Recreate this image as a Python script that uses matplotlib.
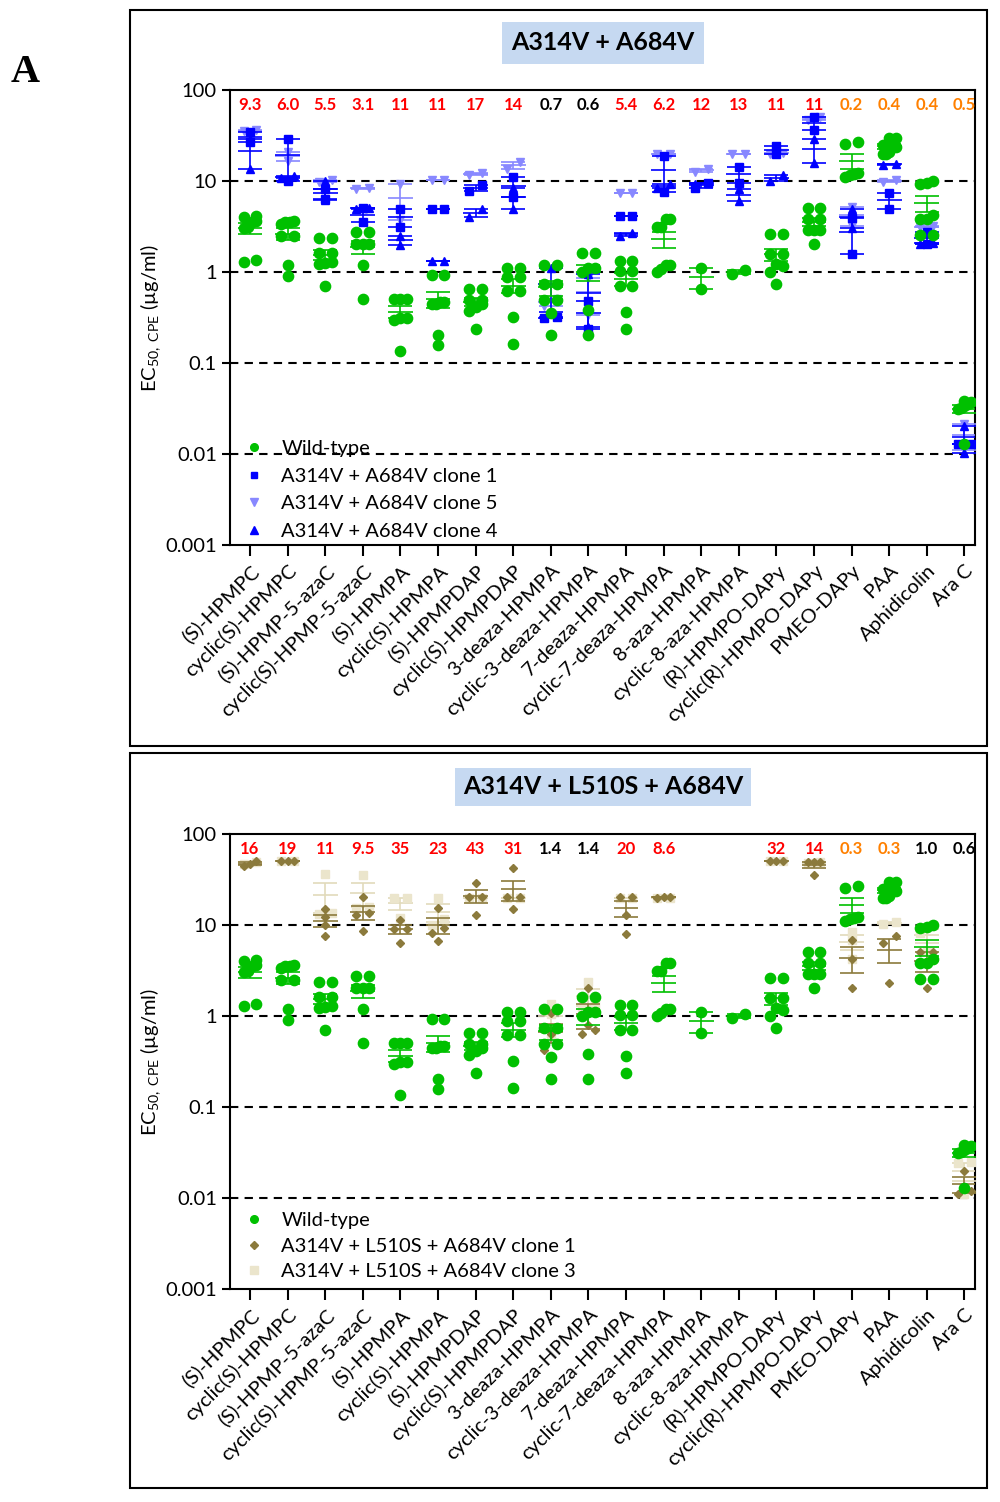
import numpy as np
import matplotlib
matplotlib.use("Agg")
import matplotlib.pyplot as plt
from matplotlib.lines import Line2D
from matplotlib.patches import Rectangle
from matplotlib.ticker import FixedLocator, FixedFormatter, NullLocator
from matplotlib.transforms import blended_transform_factory

plt.rcParams["font.family"] = ["Lato", "DejaVu Sans"]
plt.rcParams["mathtext.fontset"] = "custom"
plt.rcParams["mathtext.rm"] = "Lato"
plt.rcParams["mathtext.it"] = "Lato:italic"
plt.rcParams["mathtext.bf"] = "Lato:bold"

DRUGS = [
    "(S)-HPMPC", "cyclic(S)-HPMPC", "(S)-HPMP-5-azaC", "cyclic(S)-HPMP-5-azaC",
    "(S)-HPMPA", "cyclic(S)-HPMPA", "(S)-HPMPDAP", "cyclic(S)-HPMPDAP",
    "3-deaza-HPMPA", "cyclic-3-deaza-HPMPA", "7-deaza-HPMPA", "cyclic-7-deaza-HPMPA",
    "8-aza-HPMPA", "cyclic-8-aza-HPMPA", "(R)-HPMPO-DAPy", "cyclic(R)-HPMPO-DAPy",
    "PMEO-DAPy", "PAA", "Aphidicolin", "Ara C",
]

# wild-type EC50 values (ug/ml), same in both panels
WT = [
    [4.14, 4.07, 3.59, 3.50, 3.16, 3.08, 1.28, 1.35],
    [3.65, 3.56, 3.50, 3.35, 2.50, 2.46, 1.19, 0.91],
    [2.34, 2.34, 1.60, 1.60, 1.30, 1.26, 1.23, 0.71],
    [2.72, 2.72, 2.03, 2.03, 2.03, 1.19, 0.50],
    [0.50, 0.50, 0.50, 0.31, 0.31, 0.30, 0.135],
    [0.935, 0.935, 0.466, 0.466, 0.447, 0.447, 0.201, 0.159],
    [0.652, 0.652, 0.498, 0.498, 0.447, 0.41, 0.37, 0.234],
    [1.10, 1.10, 0.875, 0.875, 0.625, 0.625, 0.319, 0.16],
    [1.19, 1.19, 0.74, 0.74, 0.498, 0.498, 0.356, 0.201],
    [1.60, 1.60, 1.10, 1.10, 0.99, 0.387, 0.201],
    [1.31, 1.31, 1.03, 1.03, 0.703, 0.703, 0.365, 0.238],
    [3.80, 3.80, 3.16, 3.16, 1.19, 1.19, 1.08, 0.99],
    [1.10, 0.652],
    [1.05, 0.95],
    [2.61, 2.61, 1.57, 1.57, 1.22, 1.17, 0.99, 0.74],
    [5.02, 5.02, 3.87, 3.87, 2.91, 2.91, 2.91, 2.03],
    [26.5, 25.8, 12.3, 12.0, 11.5, 11.1],
    [29.8, 29.8, 25.0, 23.8, 23.8, 21.0, 19.9, 19.9],
    [10.0, 9.43, 9.2, 4.2, 3.87, 3.8, 2.58, 2.58],
    [0.038, 0.037, 0.035, 0.034, 0.032, 0.031, 0.013],
]

# panel A top: A314V + A684V clones
AV_CLONE1 = [
    [34.4, 26.7], [29.1, 10.0], [8.2, 6.4], [5.0, 3.56], [4.98, 3.16],
    [4.98, 4.98], [9.0, 7.8], [11.2, 6.6], [0.32, 0.31], [0.48, 0.234],
    [4.14, 4.14], [18.9, 7.6], [9.6, 8.4], [14.3, 9.6], [24.2, 19.6],
    [50.6, 36.1], [3.96, 1.57], [7.45, 4.98], [2.72, 2.03], [0.0129, 0.0129],
]
AV_CLONE5 = [
    [36.5, 35.0], [20.8, 16.6], [10.2, 9.8], [8.45, 8.2], [9.2, 3.7],
    [10.2, 10.2], [12.2, 11.6], [16.1, 13.6], [0.51, 0.42], [0.87, 0.34],
    [7.45, 7.45], [19.8, 19.8], [13.7, 12.6], [19.8, 19.8], [20.4, 20.0],
    [50.0, 47.0], [5.24, 3.21], [10.3, 9.8], [3.2, 3.1], [0.0215, 0.011],
]
AV_CLONE4 = [
    [29.0, 13.4], [11.3, 10.9], [10.1, 6.2], [5.05, 5.0, 4.95], [2.5, 1.98],
    [1.33, 1.33], [4.9, 4.05], [8.45, 4.98], [1.12, 0.36], [0.94, 0.25],
    [2.67, 2.5], [9.3, 8.4], [9.6, 9.2], [8.1, 6.1], [11.5, 10.0],
    [28.6, 15.9], [4.98, 3.08], [15.5, 14.9], [2.1, 2.03], [0.0203, 0.0103],
]
AV_FOLD = ["9.3", "6.0", "5.5", "3.1", "11", "11", "17", "14", "0.7", "0.6",
           "5.4", "6.2", "12", "13", "11", "11", "0.2", "0.4", "0.4", "0.5"]

# panel A bottom: A314V + L510S + A684V clones
ALV_CLONE1 = [
    [50.0, 47.0, 44.0], [51.0, 50.8, 50.5], [15.1, 12.2, 9.9, 7.5],
    [20.4, 13.6, 12.8, 8.7], [11.3, 9.1, 9.0, 6.3], [15.4, 9.3, 8.2, 6.7],
    [29.3, 20.4, 20.4, 12.8], [42.6, 20.4, 20.4, 15.1], [1.09, 0.63, 0.50, 0.42],
    [2.02, 0.80, 0.71, 0.63], [20.4, 20.4, 12.8, 8.0], [20.4, 20.2, 20.0],
    [], [], [51.0, 50.8, 50.5], [49.5, 49.5, 49.0, 35.3],
    [6.8, 4.26, 2.02], [7.5, 6.3, 2.33], [5.0, 5.0, 2.02], [0.020, 0.012, 0.011],
]
ALV_CLONE3 = [
    [49.0, 47.0], [51.0, 50.0], [36.8, 13.6, 13.2], [35.3, 15.8, 15.5],
    [20.0, 20.0, 11.9], [20.0, 11.5, 10.0], [20.0, 20.0], [20.0, 20.0],
    [1.35, 1.05, 0.62], [2.35, 1.36, 1.25], [20.0, 20.0], [20.0, 20.0],
    [], [], [50.0, 50.0], [48.0, 49.0],
    [8.4, 6.8, 4.26], [10.8, 10.2], [9.9, 8.2, 5.2], [0.025, 0.024, 0.011],
]
ALV_FOLD = ["16", "19", "11", "9.5", "35", "23", "43", "31", "1.4", "1.4",
            "20", "8.6", "", "", "32", "14", "0.3", "0.3", "1.0", "0.6"]

GREEN = "#00c000"
BLUE = "#0000ff"
LIGHT_BLUE = "#8888ff"
OLIVE = "#8b7a3c"
BEIGE = "#ebe5cc"


def fold_color(txt):
    v = float(txt)
    if v <= 0.5:
        return "#ff8000"
    if v < 3:
        return "black"
    return "red"


def swarm(vals, half=0.17, tol=0.085):
    logs = np.log10(vals)
    offs = np.zeros(len(vals))
    rows = []
    for idx in np.argsort(logs):
        if rows and logs[idx] - logs[rows[-1][0]] < tol:
            rows[-1].append(idx)
        else:
            rows.append([idx])
    for row in rows:
        if len(row) > 1:
            offs[row] = np.linspace(-half, half, len(row))
    return offs


def draw_series(ax, data, marker, color, ms, line_color, z):
    for i, vals in enumerate(data):
        if not vals:
            continue
        v = np.array(vals, dtype=float)
        ax.plot(i + swarm(v), v, ls="none", marker=marker, ms=ms, color=color,
                mec=color, zorder=z)
        mean = v.mean()
        sem = v.std(ddof=1) / np.sqrt(len(v))
        ax.hlines(mean, i - 0.33, i + 0.33, color=line_color, lw=1.2, zorder=z - 0.5)
        ax.errorbar(i, mean, yerr=sem, fmt="none", ecolor=line_color, elinewidth=1.2,
                    capsize=8.5, capthick=1.2, zorder=z - 0.5)


def setup_axes(ax, fold):
    ax.set_yscale("log")
    ax.set_ylim(0.001, 100)
    ax.set_xlim(-0.53, 19.28)
    for yv in [10, 1, 0.1, 0.01]:
        ax.axhline(yv, color="black", ls=(0, (4, 3)), lw=1.5, zorder=1)
    ax.yaxis.set_major_locator(FixedLocator([0.001, 0.01, 0.1, 1, 10, 100]))
    ax.yaxis.set_major_formatter(FixedFormatter(["0.001", "0.01", "0.1", "1", "10", "100"]))
    ax.yaxis.set_minor_locator(NullLocator())
    ax.set_xticks(range(len(DRUGS)))
    ax.set_xticklabels(DRUGS, rotation=45, ha="right", rotation_mode="anchor", fontsize=14.5)
    ax.tick_params(axis="y", labelsize=14.5, length=6, width=1.5, direction="out")
    ax.tick_params(axis="x", length=8, width=1.5, direction="out", pad=4)
    for sp in ax.spines.values():
        sp.set_linewidth(1.5)
    ax.set_ylabel(r"EC$_{\mathrm{50,\ CPE}}$ (µg/ml)", fontsize=14.5)
    ax.yaxis.set_label_coords(-0.09, 0.5)
    tr = blended_transform_factory(ax.transData, ax.transAxes)
    for i, txt in enumerate(fold):
        if txt:
            ax.text(i, 0.967, txt, transform=tr, ha="center", va="center",
                    fontsize=12, fontweight="bold", color=fold_color(txt))


fig = plt.figure(figsize=(10, 15.02), dpi=100)

# outer panel frames
for top, bottom in [(10, 746), (753, 1488)]:
    fig.add_artist(Rectangle((0.130, 1 - bottom / 1502), 0.857, (bottom - top) / 1502,
                             transform=fig.transFigure, fill=False, lw=1.5, ec="black"))

fig.text(0.025, 1 - 73 / 1502, "A", fontsize=29, fontweight="bold",
         family="Liberation Serif", ha="center", va="center")

# top panel
ax1 = fig.add_axes([0.230, 1 - 545 / 1502, 0.745, 455 / 1502])
setup_axes(ax1, AV_FOLD)
draw_series(ax1, AV_CLONE5, "v", LIGHT_BLUE, 6.2, LIGHT_BLUE, 4)
draw_series(ax1, AV_CLONE1, "s", BLUE, 5.8, BLUE, 5)
draw_series(ax1, AV_CLONE4, "^", BLUE, 5.8, BLUE, 6)
draw_series(ax1, WT, "o", GREEN, 7.4, GREEN, 7)
h1 = [
    Line2D([], [], ls="none", marker="o", ms=5.5, color=GREEN, label="Wild-type"),
    Line2D([], [], ls="none", marker="s", ms=5, color=BLUE, label="A314V + A684V clone 1"),
    Line2D([], [], ls="none", marker="v", ms=5.5, color=LIGHT_BLUE, label="A314V + A684V clone 5"),
    Line2D([], [], ls="none", marker="^", ms=5.5, color=BLUE, label="A314V + A684V clone 4"),
]
ax1.legend(handles=h1, loc="lower left", bbox_to_anchor=(0.0, -0.02), frameon=False,
           fontsize=14.5, handlelength=1.0, handletextpad=0.85, labelspacing=0.52,
           borderaxespad=0.3)
fig.text(0.603, 1 - 43 / 1502, "A314V + A684V", fontsize=18, fontweight="bold",
         ha="center", va="center",
         bbox=dict(boxstyle="square,pad=0.38", facecolor="#c6d9f1", edgecolor="none"))

# bottom panel
ax2 = fig.add_axes([0.230, 1 - 1289 / 1502, 0.745, 455 / 1502])
setup_axes(ax2, ALV_FOLD)
draw_series(ax2, ALV_CLONE3, "s", BEIGE, 6.4, "#e2dabb", 4)
draw_series(ax2, ALV_CLONE1, "D", OLIVE, 4.4, OLIVE, 5)
draw_series(ax2, WT, "o", GREEN, 7.4, GREEN, 7)
h2 = [
    Line2D([], [], ls="none", marker="o", ms=5.5, color=GREEN, label="Wild-type"),
    Line2D([], [], ls="none", marker="D", ms=3.8, color=OLIVE, label="A314V + L510S + A684V clone 1"),
    Line2D([], [], ls="none", marker="s", ms=5.5, color=BEIGE, label="A314V + L510S + A684V clone 3"),
]
ax2.legend(handles=h2, loc="lower left", bbox_to_anchor=(0.0, -0.012), frameon=False,
           fontsize=14.5, handlelength=1.0, handletextpad=0.85, labelspacing=0.42,
           borderaxespad=0.3)
fig.text(0.603, 1 - 787 / 1502, "A314V + L510S + A684V", fontsize=18, fontweight="bold",
         ha="center", va="center",
         bbox=dict(boxstyle="square,pad=0.3", facecolor="#c6d9f1", edgecolor="none"))

fig.savefig("out.png", dpi=100)
plt.close(fig)
